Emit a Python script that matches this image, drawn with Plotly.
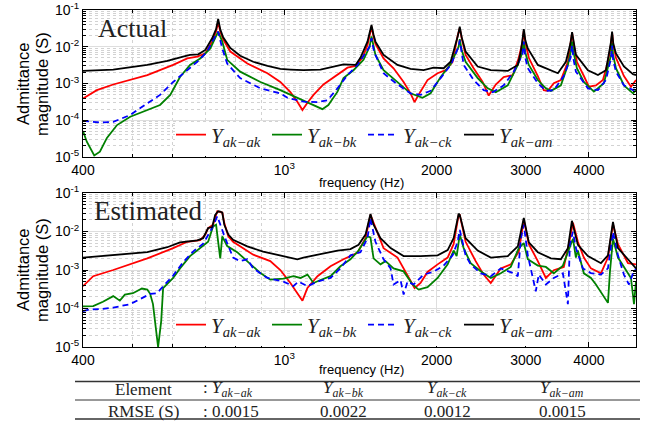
import math
import plotly.graph_objects as go

# ---------------- measured admittance magnitudes (S) vs frequency (Hz) ----------------
# Actual
act_ak_f = [400, 426, 459, 536, 603, 643, 673, 698, 720, 733, 740, 747, 757, 782, 845, 926, 982,
            1028, 1061, 1086, 1111, 1142, 1195, 1274, 1333, 1383, 1427, 1460, 1474, 1487, 1500, 1514,
            1571, 1644, 1721, 1776, 1809, 1842, 1919, 2009, 2084, 2151, 2201, 2222, 2242, 2282, 2367,
            2466, 2535, 2618, 2714, 2829, 2907, 2955, 2974, 2995, 3043, 3170, 3257, 3318, 3409, 3521,
            3635, 3676, 3705, 3735, 3787, 3909, 4000, 4130, 4264, 4362, 4420, 4445, 4470, 4524, 4691,
            4844, 4956]
act_ak_y = [3.9e-4, 6.6e-4, 9.4e-4, 1.7e-3, 3.2e-3, 4.8e-3, 5.4e-3, 6.6e-3, 1.38e-2, 2.6e-2, 4.8e-2,
            2.6e-2, 1.6e-2, 7.4e-3, 3.5e-3, 1.9e-3, 1.1e-3, 5.8e-4, 3.2e-4, 1.9e-4, 3.0e-4, 4.9e-4,
            9.4e-4, 1.7e-3, 2.7e-3, 3.0e-3, 5.0e-3, 1.1e-2, 2.0e-2, 3.5e-2, 2.0e-2, 1.2e-2, 4.8e-3,
            2.6e-3, 1.1e-3, 5.4e-4, 3.1e-4, 4.9e-4, 1.24e-3, 1.9e-3, 2.3e-3, 3.9e-3, 2.0e-2, 3.2e-2,
            1.7e-2, 6.0e-3, 2.6e-3, 1.1e-3, 4.7e-4, 9.4e-4, 1.5e-3, 1.7e-3, 5.0e-3, 1.3e-2, 2.7e-2,
            1.3e-2, 5.0e-3, 1.6e-3, 6.6e-4, 6.3e-4, 1.02e-3, 1.24e-3, 3.9e-3, 1.1e-2, 2.4e-2, 1.1e-2,
            3.9e-3, 1.6e-3, 8.2e-4, 8.9e-4, 1.24e-3, 3.9e-3, 1.1e-2, 2.4e-2, 1.1e-2, 5.0e-3, 1.6e-3,
            8.2e-4, 1.24e-3]

act_bk_f = [400, 407, 421, 432, 446, 467, 496, 536, 568, 595, 622, 651, 682, 714, 730, 740, 754, 771,
            818, 897, 982, 1014, 1091, 1163, 1189, 1222, 1274, 1309, 1370, 1434, 1474, 1487, 1500,
            1514, 1571, 1674, 1776, 1876, 1946, 2037, 2132, 2211, 2222, 2242, 2282, 2411, 2524, 2618,
            2765, 2894, 2955, 2974, 2995, 3043, 3170, 3288, 3364, 3521, 3635, 3680, 3705, 3730, 3787,
            3909, 4091, 4282, 4362, 4425, 4445, 4465, 4524, 4691, 4889, 4956]
act_bk_y = [5.1e-5, 2.6e-5, 1.1e-5, 1.4e-5, 3.3e-5, 7.4e-5, 1.25e-4, 1.9e-4, 2.6e-4, 4.9e-4, 1.5e-3,
            3.2e-3, 4.8e-3, 9.0e-3, 1.7e-2, 2.57e-2, 1.38e-2, 4.4e-3, 2.1e-3, 1.1e-3, 6.6e-4, 5.4e-4,
            3.3e-4, 2.2e-4, 2.0e-4, 2.6e-4, 6.0e-4, 1.4e-3, 2.3e-3, 4.4e-3, 1.0e-2, 1.9e-2, 1.0e-2,
            6.0e-3, 2.3e-3, 1.1e-3, 5.4e-4, 4.1e-4, 5.4e-4, 1.5e-3, 3.4e-3, 1.0e-2, 1.6e-2, 8.0e-3,
            3.9e-3, 1.4e-3, 7.4e-4, 5.8e-4, 8.9e-4, 3.2e-3, 7.0e-3, 1.38e-2, 7.0e-3, 3.2e-3, 1.24e-3,
            7.4e-4, 6.3e-4, 8.9e-4, 3.2e-3, 7.0e-3, 1.38e-2, 7.0e-3, 2.6e-3, 1.1e-3, 6.0e-4, 1.02e-3,
            2.6e-3, 6.0e-3, 1.24e-2, 6.0e-3, 2.6e-3, 8.9e-4, 5.4e-4, 6.6e-4]

act_ck_f = [400, 432, 459, 496, 536, 568, 603, 643, 673, 704, 723, 740, 754, 771, 818, 897, 982,
            1014, 1091, 1163, 1217, 1274, 1333, 1395, 1447, 1474, 1487, 1500, 1514, 1571, 1674, 1776,
            1859, 1946, 2037, 2132, 2211, 2222, 2262, 2367, 2477, 2582, 2714, 2840, 2955, 2974, 2995,
            3029, 3170, 3288, 3409, 3568, 3680, 3705, 3730, 3770, 3982, 4168, 4322, 4425, 4445, 4465,
            4524, 4691, 4889, 4956]
act_ck_y = [9.6e-5, 8.7e-5, 9.0e-5, 1.39e-4, 2.9e-4, 4.9e-4, 1.1e-3, 2.3e-3, 3.9e-3, 7.4e-3, 1.53e-2,
            2.57e-2, 9.0e-3, 3.5e-3, 1.4e-3, 7.4e-4, 5.4e-4, 4.1e-4, 3.2e-4, 3.1e-4, 3.5e-4, 7.4e-4,
            1.7e-3, 3.2e-3, 6.6e-3, 1.0e-2, 1.7e-2, 9.0e-3, 6.0e-3, 1.9e-3, 9.4e-4, 5.4e-4, 4.9e-4,
            6.3e-4, 1.4e-3, 3.2e-3, 1.0e-2, 1.5e-2, 3.2e-3, 1.24e-3, 6.6e-4, 5.8e-4, 8.9e-4, 2.1e-3,
            6.0e-3, 1.38e-2, 5.0e-3, 2.6e-3, 1.02e-3, 6.3e-4, 6.6e-4, 1.6e-3, 5.0e-3, 1.08e-2, 4.5e-3,
            2.1e-3, 7.4e-4, 6.6e-4, 1.24e-3, 5.0e-3, 1.08e-2, 4.5e-3, 2.1e-3, 8.9e-4, 6.6e-4, 7.4e-4]

act_am_f = [400, 459, 536, 587, 631, 651, 676, 698, 720, 733, 740, 747, 757, 782, 818, 868, 926, 982,
            1028, 1091, 1179, 1274, 1309, 1383, 1414, 1460, 1474, 1487, 1500, 1514, 1571, 1674, 1776,
            1885, 1973, 2065, 2132, 2181, 2203, 2222, 2242, 2282, 2411, 2559, 2765, 2894, 2934, 2955,
            2974, 2995, 3029, 3170, 3364, 3473, 3602, 3676, 3705, 3735, 3770, 3982, 4168, 4322, 4382,
            4420, 4445, 4470, 4524, 4691, 4889, 4956]
act_am_y = [2.2e-3, 2.4e-3, 3.2e-3, 4.1e-3, 5.4e-3, 6.0e-3, 6.2e-3, 8.2e-3, 1.7e-2, 3.0e-2, 5.7e-2,
            3.0e-2, 1.8e-2, 9.3e-3, 5.7e-3, 3.9e-3, 3.0e-3, 2.5e-3, 2.4e-3, 2.3e-3, 2.4e-3, 3.0e-3,
            3.3e-3, 3.2e-3, 5.0e-3, 1.38e-2, 2.2e-2, 3.9e-2, 2.2e-2, 1.38e-2, 6.0e-3, 3.2e-3, 2.5e-3,
            2.3e-3, 2.7e-3, 2.6e-3, 3.9e-3, 1.1e-2, 2.0e-2, 3.5e-2, 1.8e-2, 7.4e-3, 2.9e-3, 2.3e-3,
            2.2e-3, 3.2e-3, 7.4e-3, 1.5e-2, 3.0e-2, 1.5e-2, 9.0e-3, 3.2e-3, 2.3e-3, 1.9e-3, 3.9e-3,
            1.2e-2, 2.5e-2, 1.2e-2, 6.0e-3, 2.3e-3, 1.7e-3, 2.3e-3, 6.0e-3, 1.3e-2, 2.6e-2, 1.2e-2,
            6.6e-3, 2.9e-3, 1.8e-3, 1.7e-3]

# Estimated
est_ak_f = [400, 419, 459, 536, 603, 643, 682, 698, 707, 723, 737, 754, 761, 775, 792, 868, 938, 982,
            1028, 1066, 1086, 1111, 1163, 1234, 1309, 1395, 1447, 1480, 1514, 1571, 1674, 1721, 1776,
            1809, 1859, 1919, 2009, 2103, 2161, 2211, 2222, 2282, 2389, 2477, 2559, 2678, 2803, 2907,
            2974, 3043, 3170, 3288, 3409, 3568, 3651, 3720, 3804, 3909, 4037, 4225, 4362, 4463, 4566,
            4778, 4956]
est_ak_y = [3.8e-4, 6.9e-4, 1.0e-3, 2.0e-3, 3.7e-3, 5.4e-3, 6.0e-3, 8.3e-3, 1.23e-2, 1.5e-2, 3.35e-2,
            3.1e-2, 1.65e-2, 7.5e-3, 5.4e-3, 2.5e-3, 1.7e-3, 1.0e-3, 4.6e-4, 2.3e-4, 1.6e-4, 3.4e-4,
            6.9e-4, 1.25e-3, 1.9e-3, 2.8e-3, 6.7e-3, 2.7e-2, 1.23e-2, 3.7e-3, 2.1e-3, 1.1e-3, 5.6e-4,
            3.4e-4, 4.6e-4, 8.9e-4, 1.4e-3, 2.1e-3, 4.7e-3, 2.7e-2, 2.7e-2, 5.4e-3, 1.7e-3, 7.6e-4,
            4.6e-4, 1.1e-3, 1.4e-3, 3.0e-3, 2.0e-2, 4.7e-3, 1.7e-3, 6.2e-4, 9.9e-4, 1.2e-3, 4.7e-3,
            1.7e-2, 5.4e-3, 2.1e-3, 1.1e-3, 8.2e-4, 2.1e-3, 1.55e-2, 4.7e-3, 1.5e-3, 1.4e-3]

est_bk_f = [400, 419, 438, 459, 473, 484, 502, 523, 536, 543, 550, 558, 563, 571, 576, 603, 622, 651,
            682, 707, 723, 733, 740, 747, 754, 771, 807, 845, 897, 938, 982, 996, 1042, 1076, 1111,
            1142, 1179, 1234, 1291, 1351, 1402, 1434, 1460, 1480, 1501, 1549, 1585, 1644, 1721, 1793,
            1842, 1919, 2009, 2103, 2161, 2191, 2222, 2262, 2335, 2444, 2559, 2678, 2803, 2907, 2974,
            3029, 3170, 3288, 3409, 3553, 3651, 3720, 3770, 3804, 3909, 4037, 4130, 4264, 4362, 4402,
            4463, 4566, 4691, 4844, 4911, 4956]
est_bk_y = [1.13e-4, 1.15e-4, 1.5e-4, 2.1e-4, 1.6e-4, 2.3e-4, 2.5e-4, 3.3e-4, 3.1e-4, 2.4e-4, 1.3e-4,
            3.2e-5, 1.0e-5, 4.7e-5, 3.4e-4, 6.2e-4, 1.1e-3, 2.3e-3, 3.7e-3, 5.4e-3, 1.36e-2, 1.5e-2,
            5.4e-3, 2.0e-3, 7.5e-3, 4.2e-3, 2.9e-3, 1.7e-3, 8.3e-4, 5.6e-4, 5.9e-4, 6.0e-4, 6.9e-4,
            6.2e-4, 7.6e-4, 4.6e-4, 5.5e-4, 6.9e-4, 1.25e-3, 1.9e-3, 3.2e-3, 5.4e-3, 7.5e-3, 7.0e-3,
            2.0e-3, 1.4e-3, 1.7e-3, 1.1e-3, 9.2e-4, 4.2e-4, 3.1e-4, 3.6e-4, 6.2e-4, 1.4e-3, 3.2e-3,
            2.3e-3, 8.3e-3, 3.7e-3, 1.5e-3, 9.3e-4, 6.2e-4, 8.2e-4, 1.2e-3, 3.7e-3, 5.0e-3, 1.9e-3,
            1.3e-3, 1.2e-3, 8.2e-4, 1.3e-3, 3.2e-3, 6.5e-3, 2.1e-3, 3.2e-3, 8.2e-4, 6.2e-4, 4.2e-4,
            2.3e-4, 1.4e-4, 9.0e-4, 6.5e-3, 2.1e-3, 1.2e-3, 6.2e-4, 1.3e-4, 5.0e-4]

est_ck_f = [400, 413, 432, 459, 496, 519, 543, 560, 581, 603, 631, 660, 691, 720, 737, 747, 764, 792,
            818, 845, 868, 926, 982, 996, 1042, 1066, 1111, 1163, 1234, 1291, 1351, 1414, 1460, 1480,
            1514, 1571, 1622, 1644, 1697, 1721, 1752, 1801, 1885, 1973, 2065, 2151, 2201, 2222, 2282,
            2335, 2444, 2559, 2678, 2840, 2894, 2934, 2974, 3029, 3099, 3141, 3184, 3288, 3409, 3553,
            3635, 3668, 3720, 3770, 3892, 4037, 4225, 4362, 4463, 4566, 4691, 4800, 4889, 4956]
est_ck_y = [8.5e-5, 9.5e-5, 9.6e-5, 1.05e-4, 1.3e-4, 1.8e-4, 2.4e-4, 2.5e-4, 4.2e-4, 7.2e-4, 1.6e-3,
            3.0e-3, 4.8e-3, 1.23e-2, 2.5e-2, 1.5e-2, 6.7e-3, 2.1e-3, 1.7e-3, 1.9e-3, 1.1e-3, 6.2e-4,
            5.3e-4, 5.0e-4, 3.8e-4, 5.0e-4, 3.8e-4, 5.0e-4, 6.2e-4, 1.1e-3, 2.4e-3, 2.9e-3, 6.7e-3,
            2.2e-2, 5.4e-3, 1.9e-3, 1.1e-3, 4.2e-4, 5.5e-4, 2.3e-4, 5.0e-4, 4.2e-4, 7.6e-4, 9.0e-4,
            1.3e-3, 2.4e-3, 5.4e-3, 1.1e-2, 2.4e-3, 1.4e-3, 8.2e-4, 6.9e-4, 1.1e-3, 8.2e-4, 6.9e-4,
            6.5e-3, 1.5e-2, 2.4e-3, 6.2e-4, 2.8e-4, 7.6e-4, 4.2e-4, 6.2e-4, 8.2e-4, 1.3e-4, 4.7e-3,
            9.8e-3, 3.7e-3, 1.1e-3, 8.3e-4, 7.6e-4, 1.1e-3, 9.8e-3, 2.4e-3, 7.6e-4, 4.2e-4, 8.2e-4,
            1.1e-3]

est_am_f = [400, 459, 536, 587, 622, 673, 691, 707, 720, 730, 740, 747, 754, 761, 775, 792, 845, 908,
            982, 996, 1061, 1091, 1179, 1274, 1351, 1402, 1447, 1480, 1501, 1549, 1622, 1721, 1859,
            2009, 2103, 2161, 2211, 2222, 2282, 2411, 2559, 2765, 2894, 2974, 3043, 3170, 3364, 3521,
            3635, 3702, 3804, 3982, 4225, 4362, 4463, 4566, 4778, 4956]
est_am_y = [2.1e-3, 2.4e-3, 2.9e-3, 3.9e-3, 5.2e-3, 5.9e-3, 6.7e-3, 1.23e-2, 1.3e-2, 2.7e-2, 3.35e-2,
            3.3e-2, 3.1e-2, 1.5e-2, 8.3e-3, 6.1e-3, 4.1e-3, 3.0e-3, 2.4e-3, 2.3e-3, 1.9e-3, 2.1e-3,
            2.6e-3, 3.2e-3, 3.5e-3, 4.5e-3, 8.3e-3, 2.85e-2, 1.5e-2, 6.7e-3, 3.7e-3, 2.3e-3, 2.3e-3,
            2.4e-3, 3.3e-3, 6.7e-3, 2.9e-2, 2.7e-2, 6.7e-3, 3.2e-3, 2.1e-3, 2.3e-3, 4.1e-3, 2.25e-2,
            5.2e-3, 2.9e-3, 2.0e-3, 1.9e-3, 3.7e-3, 1.9e-2, 4.5e-3, 2.3e-3, 1.5e-3, 2.4e-3, 1.77e-2,
            3.7e-3, 1.9e-3, 1.1e-3]

# Axis ticks
x_ticks = [400, 1000, 2000, 3000, 4000]
x_ticklabels = ["400", "10<sup>3</sup>", "2000", "3000", "4000"]
y_ticks = [1e-5, 1e-4, 1e-3, 1e-2, 1e-1]
y_ticklabels = ["10<sup>-5</sup>", "10<sup>-4</sup>", "10<sup>-3</sup>", "10<sup>-2</sup>", "10<sup>-1</sup>"]
f_min, f_max = 400, 4956

# Summary table
elements = ["ak−ak", "ak−bk", "ak−ck", "ak−am"]
rmse = ["0.0015", "0.0022", "0.0012", "0.0015"]

# ---------------- figure ----------------
W, H = 651, 425
def fx(p):
    return p / W
def fy(p):
    return 1 - p / H

colors = ["#ff0000", "#008000", "#0000ff", "#000000"]
dashes = ["solid", "solid", "6px,4px", "solid"]

def ylabel_name(sub):
    return "<i>Y</i><sub><i>%s</i></sub>" % sub

fig = go.Figure()
actual = [(act_ak_f, act_ak_y), (act_bk_f, act_bk_y), (act_ck_f, act_ck_y), (act_am_f, act_am_y)]
estimated = [(est_ak_f, est_ak_y), (est_bk_f, est_bk_y), (est_ck_f, est_ck_y), (est_am_f, est_am_y)]

for i, (f, y) in enumerate(actual):
    fig.add_trace(go.Scatter(x=f, y=y, mode="lines", name=ylabel_name(elements[i]),
                             line=dict(color=colors[i], width=1.8, dash=dashes[i]),
                             xaxis="x", yaxis="y", legend="legend"))
for i, (f, y) in enumerate(estimated):
    fig.add_trace(go.Scatter(x=f, y=y, mode="lines", name=ylabel_name(elements[i]),
                             line=dict(color=colors[i], width=1.8, dash=dashes[i]),
                             xaxis="x2", yaxis="y2", legend="legend2"))

minor_x = [500, 600, 700, 800, 900]
minor_y = [m * 10 ** e for e in range(-5, -1) for m in range(2, 10)]

tick_font = dict(family="Liberation Sans, Arial", size=14, color="black")

def xaxis_cfg(anchor):
    return dict(type="log", range=[math.log10(f_min), math.log10(f_max)], domain=[fx(83), fx(636)],
                anchor=anchor, tickvals=x_ticks, ticktext=x_ticklabels, tickfont=tick_font,
                ticks="inside", ticklen=5, tickcolor="black", showline=True, linecolor="black",
                linewidth=1, mirror="allticks", showgrid=True, gridcolor="#dedede", gridwidth=1,
                zeroline=False, automargin=False,
                minor=dict(tickvals=minor_x, ticks="inside", ticklen=3, tickcolor="black",
                           showgrid=True, gridcolor="#d2d2d2", griddash="dot", gridwidth=1))

def yaxis_cfg(anchor, top, bottom):
    return dict(type="log", range=[-5, -1], domain=[fy(bottom), fy(top)], anchor=anchor,
                tickvals=y_ticks, ticktext=y_ticklabels, tickfont=tick_font,
                ticks="inside", ticklen=5, tickcolor="black", showline=True, linecolor="black",
                linewidth=1, mirror="allticks", showgrid=True, gridcolor="#dedede", gridwidth=1,
                zeroline=False, automargin=False,
                minor=dict(tickvals=minor_y, ticks="inside", ticklen=3, tickcolor="black",
                           showgrid=True, gridcolor="#d2d2d2", griddash="dot", gridwidth=1))

legend_common = dict(orientation="h", xanchor="left", yanchor="middle", bgcolor="rgba(0,0,0,0)",
                     borderwidth=0, itemwidth=30, tracegroupgap=0,
                     font=dict(family="Liberation Serif, Times New Roman", size=21, color="#222"),
                     entrywidth=51, entrywidthmode="pixels")

fig.update_layout(
    width=W, height=H, margin=dict(l=0, r=0, t=0, b=0, autoexpand=False),
    paper_bgcolor="white", plot_bgcolor="white", showlegend=True,
    xaxis=xaxis_cfg("y"), yaxis=yaxis_cfg("x", 10, 157),
    xaxis2=xaxis_cfg("y2"), yaxis2=yaxis_cfg("x2", 193, 347),
    legend=dict(x=fx(171), y=fy(135), **legend_common),
    legend2=dict(x=fx(171), y=fy(325), **legend_common),
)

ann = []
serif = "Liberation Serif, Times New Roman"
sans = "Liberation Sans, Arial"
# panel titles
ann.append(dict(x=fx(96), y=fy(28), text="Actual", xanchor="left", yanchor="middle",
                font=dict(family=serif, size=26, color="#222")))
ann.append(dict(x=fx(92), y=fy(211), text="Estimated", xanchor="left", yanchor="middle",
                font=dict(family=serif, size=27, color="#222")))
# axis labels
for yc in (84, 270):
    ann.append(dict(x=fx(23), y=fy(yc), text="Admittance", textangle=-90, xanchor="center",
                    yanchor="middle", font=dict(family=sans, size=16.5, color="black")))
    ann.append(dict(x=fx(42), y=fy(yc), text="magnitude (S)", textangle=-90, xanchor="center",
                    yanchor="middle", font=dict(family=sans, size=16.5, color="black")))
for yc in (182, 369):
    ann.append(dict(x=fx(361), y=fy(yc), text="frequency (Hz)", xanchor="center", yanchor="middle",
                    font=dict(family=sans, size=13, color="black")))

# table
col_x = [238, 343, 447, 562]
row1, row2 = 389, 411
tfont = dict(family=serif, size=17, color="#222")
ann.append(dict(x=fx(143), y=fy(row1), text="Element", xanchor="center", yanchor="middle", font=tfont))
ann.append(dict(x=fx(143), y=fy(row2), text="RMSE (S)", xanchor="center", yanchor="middle", font=tfont))
for i in range(4):
    if i == 0:
        ann.append(dict(x=fx(201), y=fy(row1), text=": " + ylabel_name(elements[i]), xanchor="left",
                        yanchor="middle", font=tfont))
        ann.append(dict(x=fx(201), y=fy(row2), text=": " + rmse[i], xanchor="left",
                        yanchor="middle", font=tfont))
    else:
        ann.append(dict(x=fx(col_x[i]), y=fy(row1), text=ylabel_name(elements[i]), xanchor="center",
                        yanchor="middle", font=tfont))
        ann.append(dict(x=fx(col_x[i]), y=fy(row2), text=rmse[i], xanchor="center",
                        yanchor="middle", font=tfont))
for a in ann:
    a.update(xref="paper", yref="paper", showarrow=False)
fig.update_layout(annotations=ann)

shapes = []
# white legend boxes inside each panel
for top, bottom in ((123, 156), (313, 346)):
    shapes.append(dict(type="rect", xref="paper", yref="paper", x0=fx(175), x1=fx(549),
                       y0=fy(bottom), y1=fy(top), fillcolor="white", line=dict(width=0),
                       layer="above"))
# table rules
for yl, w in ((381.5, 1.6), (400, 1.0), (419, 1.6)):
    shapes.append(dict(type="line", xref="paper", yref="paper", x0=fx(75), x1=fx(640),
                       y0=fy(yl), y1=fy(yl), line=dict(color="#333", width=w)))
fig.update_layout(shapes=shapes)

fig.write_html("out.html")
